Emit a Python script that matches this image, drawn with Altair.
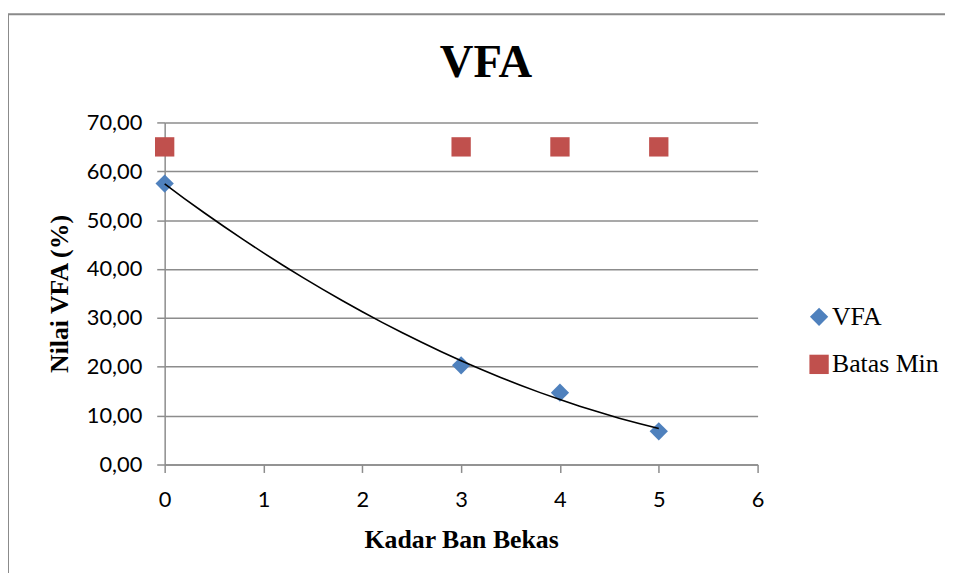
import altair as alt
import pandas as pd

# --- data ---
kadar = [0, 3, 4, 5]
vfa_values = [57.5, 20.3, 14.7, 6.8]
batas_min = [65.0, 65.0, 65.0, 65.0]
series_names = ["VFA", "Batas Min"]
series_colors = ["#4F81BD", "#C0504D"]
series_shapes = ["diamond", "square"]
x_ticks = [0, 1, 2, 3, 4, 5, 6]
y_ticks = [0, 10, 20, 30, 40, 50, 60, 70]
chart_title = "VFA"

rows = []
for xv, yv in zip(kadar, vfa_values):
    rows.append({"x": xv, "y": yv, "series": "VFA"})
for xv, yv in zip(kadar, batas_min):
    rows.append({"x": xv, "y": yv, "series": "Batas Min"})
df = pd.DataFrame(rows)

W, H = 598, 345
PL, PT = 158, 113

xscale = alt.Scale(domain=[0, 6], nice=False, zero=False)
yscale = alt.Scale(domain=[0, 70], nice=False)

base = alt.Chart(df)

points = base.mark_point(filled=True, opacity=1, strokeWidth=0).encode(
    x=alt.X("x:Q", scale=xscale,
            axis=alt.Axis(values=x_ticks, title="Kadar Ban Bekas", grid=False,
                          format="d", labelFlush=False,
                          titleY=84, titleBaseline="alphabetic")),
    y=alt.Y("y:Q", scale=yscale,
            axis=alt.Axis(values=y_ticks, title="Nilai VFA (%)", grid=True,
                          labelFlush=False,
                          labelExpr="replace(format(datum.value, '.2f'), '.', ',')",
                          titleX=-98, titleY=H / 2, titleBaseline="alphabetic",
                          titleAlign="center", titleAngle=270)),
    color=alt.Color("series:N",
                    scale=alt.Scale(domain=series_names, range=series_colors),
                    legend=alt.Legend(title=None, orient="none", legendX=647, legendY=183,
                                      symbolSize=300, labelOffset=0, rowPadding=22,
                                      labelFont="Liberation Serif", labelFontSize=26,
                                      labelColor="#000000", padding=0)),
    shape=alt.Shape("series:N",
                    scale=alt.Scale(domain=series_names, range=series_shapes),
                    legend=None),
    size=alt.Size("series:N",
                  scale=alt.Scale(domain=series_names, range=[340, 380]),
                  legend=None),
)

trend = base.transform_filter(alt.datum.series == "VFA").transform_regression(
    "x", "y", method="poly", order=2, extent=[0, 5]
).mark_line(color="#000000", strokeWidth=1.6).encode(
    x=alt.X("x:Q", scale=xscale),
    y=alt.Y("y:Q", scale=yscale),
)

single = alt.Data(values=[{"t": chart_title}])
frame_left = alt.Chart(single).mark_rule(color="#8a8a8a", strokeWidth=2).encode(
    x=alt.value(-158), y=alt.value(-109), y2=alt.value(600)
)
frame_top = alt.Chart(single).mark_rule(color="#8a8a8a", strokeWidth=2).encode(
    x=alt.value(-158), x2=alt.value(900), y=alt.value(-109)
)
title_text = alt.Chart(single).mark_text(
    font="Liberation Serif", fontSize=47, fontWeight="bold", color="#000000",
    align="center", baseline="alphabetic"
).encode(text="t:N", x=alt.value(324), y=alt.value(-46))

chart = alt.layer(frame_left, frame_top, title_text, points, trend).properties(
    width=W, height=H,
    autosize=alt.AutoSizeParams(type="none"),
    padding={"left": PL, "top": PT, "right": 189, "bottom": 107},
).configure_view(stroke=None).configure_axis(
    labelFont="Lato", labelFontSize=22, labelColor="#000000",
    titleFont="Liberation Serif", titleFontSize=26, titleFontWeight="bold", titleColor="#000000",
    domainColor="#8c8c8c", domainWidth=1.5, tickColor="#8c8c8c", tickWidth=1.5, tickSize=8,
    gridColor="#8c8c8c", gridWidth=1.5,
).configure_axisY(labelPadding=15).configure_axisX(labelPadding=17)

chart.save("out.html", embed_options={"renderer": "svg", "actions": False})
